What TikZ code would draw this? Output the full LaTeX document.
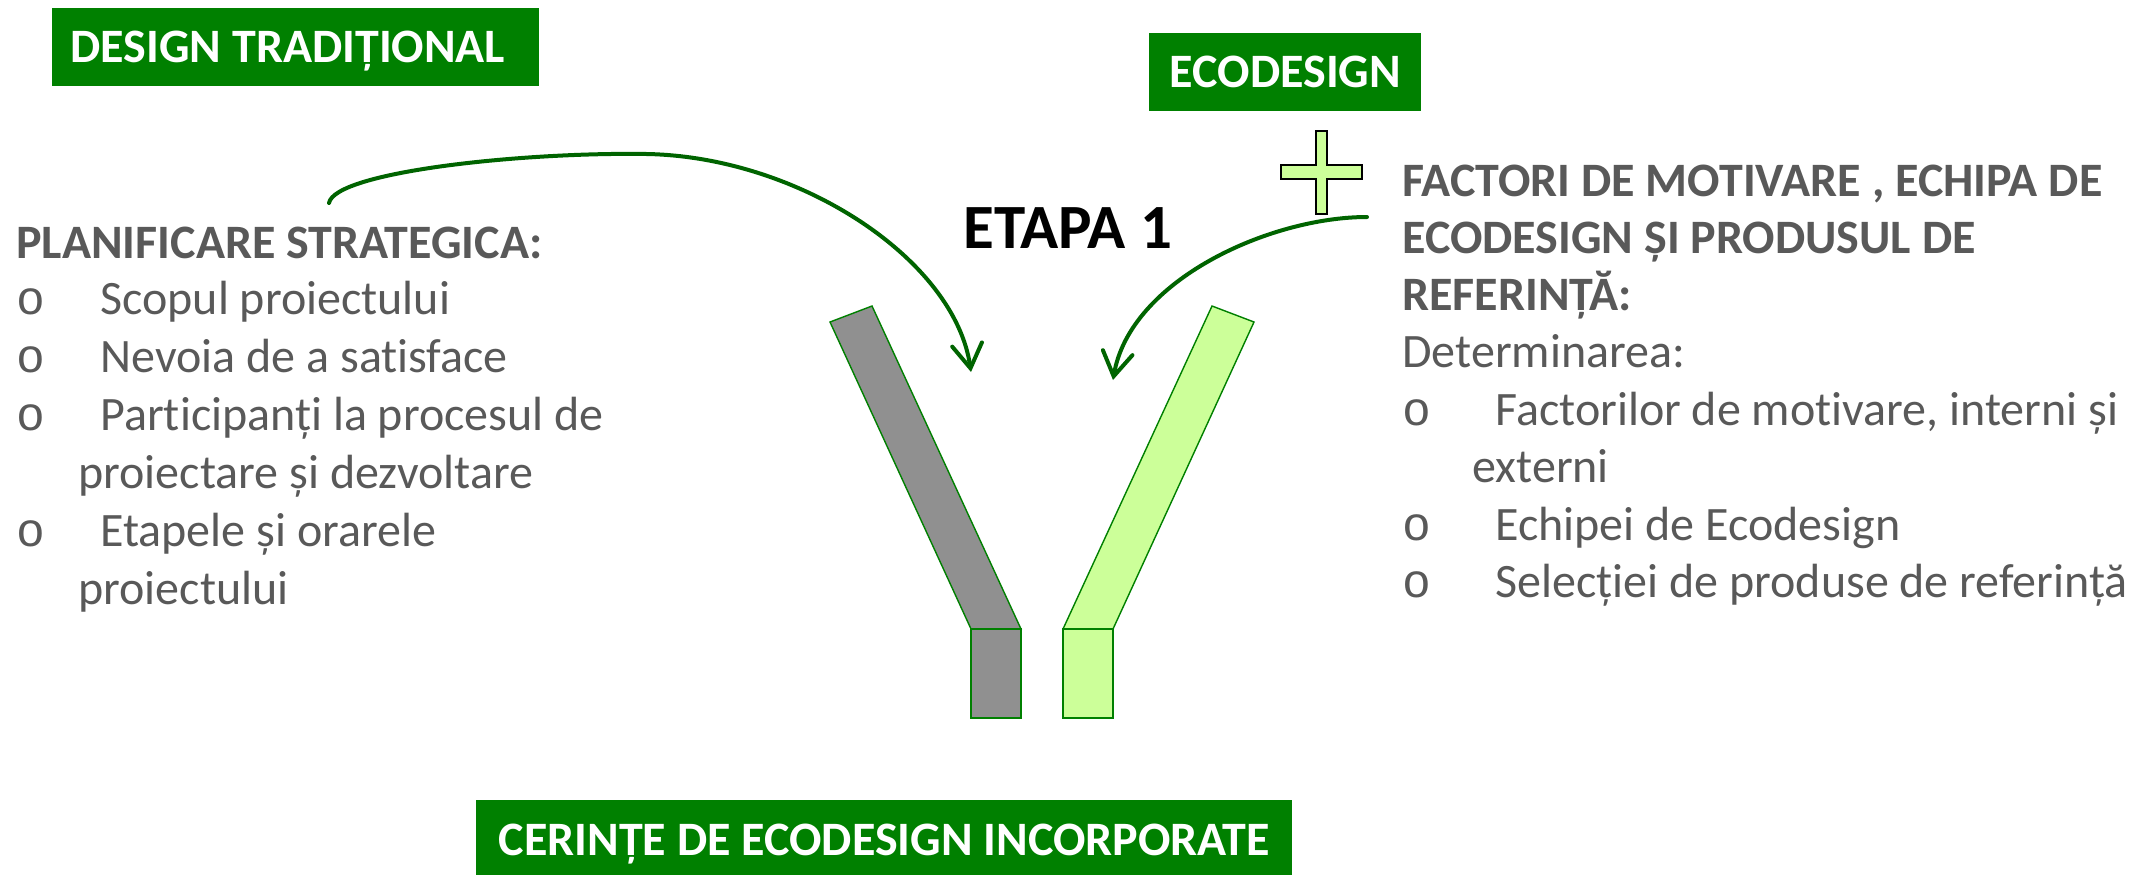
\documentclass[tikz,border=0pt]{standalone}
\usepackage{fontspec}
\setmainfont{Carlito}[Ligatures=NoCommon]
\newfontfamily\bulfont{Liberation Mono}
\usetikzlibrary{arrows.meta}
\definecolor{boxgreen}{RGB}{0,128,0}
\definecolor{arrowgreen}{RGB}{0,100,0}
\definecolor{txtgray}{RGB}{89,89,89}
\definecolor{lightgreen}{RGB}{204,255,153}
\definecolor{bargray}{RGB}{144,144,144}
\newcommand{\bulo}[1]{\makebox[#1][l]{{\bulfont o}}}
\begin{document}
\begin{tikzpicture}[x=0.5pt,y=-0.5pt,
  greenbox/.style={fill=boxgreen, text=white, font=\fontsize{24}{28}\selectfont\bfseries,
    inner sep=0pt, text height=15.5pt, text depth=0pt, anchor=north west},
  body/.style={text=txtgray, font=\fontsize{24}{28}\selectfont, inner sep=0pt, anchor=base west},
  barline/.style={draw=boxgreen, line width=0.7pt, line join=miter},
  conn/.style={draw=arrowgreen, line width=2pt, line cap=round,
    -{Straight Barb[length=12pt,width=15pt,line cap=round]}}]
\clip (0,0) rectangle (2151,874);
\fill[white] (0,0) rectangle (2151,874);

% green title boxes
\node[greenbox, minimum width=243.5pt, minimum height=39pt] (dt) at (52,8) {DESIGN TRADIȚIONAL\hspace*{8pt}};
\node[greenbox, minimum width=136pt, minimum height=39pt] (eco) at (1149,33) {ECODESIGN};
\node[greenbox, minimum width=408pt, minimum height=40pt] (cer) at (476,800) {CERINȚE DE ECODESIGN INCORPORATE};

% stage title
\node[font=\fontsize{31.5}{36}\selectfont\bfseries, anchor=base west, inner sep=0pt] (etapa) at (963,248) {ETAPA 1};

% plus sign
\draw[fill=lightgreen, line width=0.8pt, line join=miter]
  (1316,131) -- (1327,131) -- (1327,165) -- (1362,165) -- (1362,179) -- (1327,179)
  -- (1327,214) -- (1316,214) -- (1316,179) -- (1281,179) -- (1281,165) -- (1316,165) -- cycle;

% bars
\draw[barline, fill=bargray] (830,322) -- (872,306) -- (1021,629) -- (971,629) -- cycle;
\draw[barline, fill=bargray] (971,629) rectangle (1021,718);
\draw[barline, fill=lightgreen] (1212,306) -- (1254,322) -- (1113,629) -- (1063,629) -- cycle;
\draw[barline, fill=lightgreen] (1063,629) rectangle (1113,718);

% connectors
\coordinate (ls) at (329,203);
\coordinate (le) at (971,372);
\draw[conn] (ls) .. controls (335,172) and (520,152) .. (647,154)
  .. controls (800,157) and (955,260) .. (le);
\coordinate (rs) at (1367,217);
\coordinate (re) at (1113,380);
\draw[conn] (rs) .. controls (1270,217) and (1130,280) .. (re);

% left text
\node[body] (l0) at (16,258) {\bfseries PLANIFICARE STRATEGICA:};
\node[body] (l1) at (16,314) {\bulo{42pt}Scopul proiectului};
\node[body] (l2) at (16,372) {\bulo{42pt}Nevoia de a satisface};
\node[body] (l3) at (16,430) {\bulo{42pt}Participanți la procesul de};
\node[body] (l4) at (78,488) {proiectare și dezvoltare};
\node[body] (l5) at (16,546) {\bulo{42pt}Etapele și orarele};
\node[body] (l6) at (78,604) {proiectului};

% right text
\node[body] (r0) at (1402,196) {\bfseries FACTORI DE MOTIVARE , ECHIPA DE};
\node[body] (r1) at (1402,253) {\bfseries ECODESIGN ȘI PRODUSUL DE};
\node[body] (r2) at (1402,310) {\bfseries REFERINȚĂ:};
\node[body] (r3) at (1402,367) {Determinarea:};
\node[body] (r4) at (1402,425) {\bulo{46.5pt}Factorilor de motivare, interni și};
\node[body] (r5) at (1472,482) {externi};
\node[body] (r6) at (1402,540) {\bulo{46.5pt}Echipei de Ecodesign};
\node[body] (r7) at (1402,597) {\bulo{46.5pt}Selecției de produse de referință};
\end{tikzpicture}
\end{document}
